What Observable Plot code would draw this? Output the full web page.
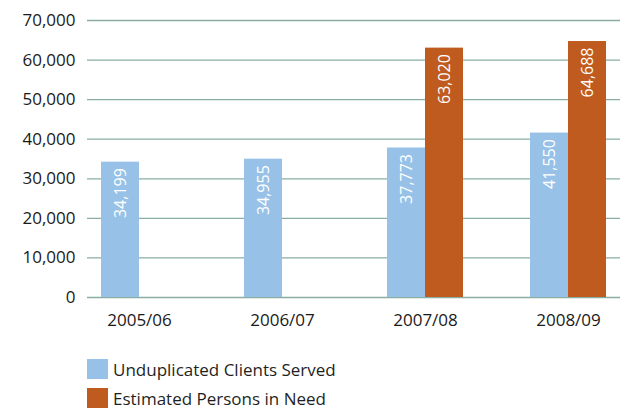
<!DOCTYPE html>
<html>
<head>
<meta charset="utf-8">
<script src="https://cdn.jsdelivr.net/npm/d3@7"></script>
<script src="https://cdn.jsdelivr.net/npm/@observablehq/plot@0.6"></script>
<style>
  html, body { margin: 0; padding: 0; background: #fff; }
  body { width: 620px; height: 410px; overflow: hidden; font-family: "Open Sans", sans-serif; }
  .legend { margin-top: 19px; padding-left: 87px; }
  .legend .item { display: flex; align-items: center; height: 20px; margin-bottom: 9px; font-size: 17px; color: #1f1f1f; }
  .legend .sw { width: 21px; height: 20px; margin-right: 5px; }
</style>
</head>
<body>
<div id="chart"></div>
<script>
const years = ["2005/06", "2006/07", "2007/08", "2008/09"];
const seriesNames = ["Unduplicated Clients Served", "Estimated Persons in Need"];
const served = [34199, 34955, 37773, 41550];
const need = [null, null, 63020, 64688];
const yTicks = [0, 10000, 20000, 30000, 40000, 50000, 60000, 70000];
const colors = ["#97c1e7", "#c05b20"];

const servedData = years.map((y, i) => ({year: y, series: seriesNames[0], value: served[i]}));
const needData = years.map((y, i) => ({year: y, series: seriesNames[1], value: need[i]})).filter(d => d.value != null);
const fmt = d3.format(",");

const plot = Plot.plot({
  width: 620,
  height: 340,
  marginTop: 20,
  marginBottom: 43,
  marginLeft: 87,
  marginRight: 0,
  style: {fontFamily: "Open Sans, sans-serif", fontSize: "17px", color: "#1a1a1a", background: "#fff"},
  x: {domain: years, paddingInner: 0.47, paddingOuter: 0.09, label: null},
  y: {domain: [0, 70000], label: null},
  marks: [
    Plot.gridY(yTicks, {stroke: "#8aada4", strokeOpacity: 1, strokeWidth: 1.3}),
    Plot.barY(servedData, {x: "year", y: "value", fill: colors[0], insetRight: 38}),
    Plot.barY(needData, {x: "year", y: "value", fill: colors[1], insetLeft: 38}),
    Plot.text(servedData, {x: "year", y: "value", text: d => fmt(d.value), rotate: -90, textAnchor: "end", lineAnchor: "middle", dx: -19, dy: 6, fill: "white", fontSize: 16}),
    Plot.text(needData, {x: "year", y: "value", text: d => fmt(d.value), rotate: -90, textAnchor: "end", lineAnchor: "middle", dx: 19, dy: 6, fill: "white", fontSize: 16}),
    Plot.axisY(yTicks, {tickSize: 0, tickPadding: 12, tickFormat: fmt, label: null, fontSize: 17}),
    Plot.axisX({tickSize: 0, tickPadding: 16, label: null, fontSize: 17})
  ]
});
document.getElementById("chart").append(plot);

const legend = document.createElement("div");
legend.className = "legend";
seriesNames.forEach((name, i) => {
  const item = document.createElement("div");
  item.className = "item";
  const sw = document.createElement("span");
  sw.className = "sw";
  sw.style.background = colors[i];
  const label = document.createElement("span");
  label.textContent = name;
  item.append(sw, label);
  legend.append(item);
});
document.body.append(legend);
</script>
</body>
</html>
